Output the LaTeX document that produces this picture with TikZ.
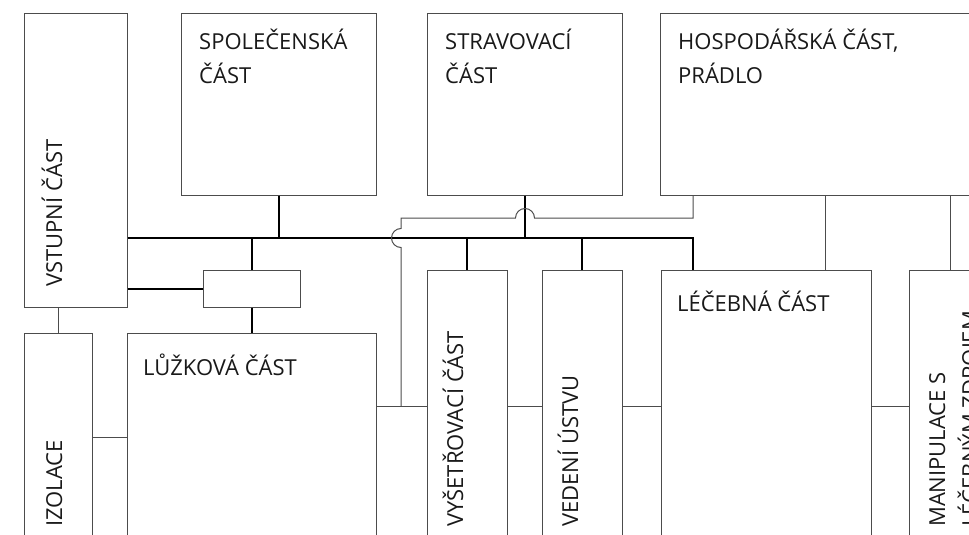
\documentclass[tikz,border=0pt]{standalone}
\usepackage{fontspec}
\newfontfamily\planfont{Open Sans}

\begin{document}
\begin{tikzpicture}[x=1pt,y=-1pt,room/.style={draw=black!70, line width=1pt, inner sep=0pt},txt/.style={font=\planfont\fontsize{22}{33}\selectfont, text=black!90, inner sep=0pt, align=left, anchor=base west},vtxt/.style={txt, rotate=90},main/.style={line width=2pt, black},side/.style={line width=1pt, black!70}]
\useasboundingbox (0,0) rectangle (969,535);
\clip (0,0) rectangle (969,535);
\node[room, minimum width=103pt, minimum height=293pt] (vst) at (75.5,160.5) {};
\node[room, minimum width=195pt, minimum height=181pt] (spol) at (278.5,104.5) {};
\node[room, minimum width=195pt, minimum height=181pt] (strav) at (524.5,104.5) {};
\node[room, minimum width=380pt, minimum height=181pt] (hosp) at (850,104.5) {};
\node[room, minimum width=97pt, minimum height=37pt] (lnk) at (251.5,288.5) {};
\node[room, minimum width=68pt, minimum height=208pt] (izol) at (58,437) {};
\node[room, minimum width=249pt, minimum height=208pt] (luz) at (251.5,437) {};
\node[room, minimum width=80pt, minimum height=272pt] (vys) at (467,406) {};
\node[room, minimum width=80pt, minimum height=272pt] (ved) at (582,406) {};
\node[room, minimum width=210pt, minimum height=272pt] (lec) at (766,406) {};
\node[room, minimum width=82pt, minimum height=272pt] (man) at (950,406) {};
\coordinate (bus) at (0,238); \coordinate (tap) at (693,0); \coordinate (lt) at (825,0);
\coordinate (h1) at (534.5,218); \coordinate (h2) at (401,218); \coordinate (h3) at (401,228.5);
\draw[main] (vst.east |- bus) -- (tap |- bus) -- (tap |- lec.north);
\draw[main] (spol.south) -- (spol.south |- bus);
\draw[main] (strav.south) -- (strav.south |- bus);
\draw[main] (lnk.north |- bus) -- (lnk.north);
\draw[main] (lnk.south) -- (luz.north);
\draw[main] (vst.east |- lnk.west) -- (lnk.west);
\draw[main] (vys.north |- bus) -- (vys.north);
\draw[main] (ved.north |- bus) -- (ved.north);
\draw[side] (izol.north |- vst.south) -- (izol.north);
\draw[side] (izol.east) -- (izol.east -| luz.west);
\draw[side] (luz.east |- vys.west) -- (vys.west);
\draw[side] (vys.east) -- (ved.west);
\draw[side] (ved.east) -- (lec.west);
\draw[side] (lec.east) -- (man.west);
\draw[side] (lt |- hosp.south) -- (lt |- lec.north);
\draw[side] (man.north |- hosp.south) -- (man.north);
\draw[side] (tap |- hosp.south) -- (tap |- h1) -- (h1) arc[start angle=0, end angle=180, radius=9.5pt] -- (h2) -- (h3) arc[start angle=90, end angle=270, radius=9.5pt] -- (h2 |- vys.west);
\node[txt] (tspol) at (199,83) {SPOLEČENSKÁ\\ČÁST};
\node[txt] (tstrav) at (445,83) {STRAVOVACÍ\\ČÁST};
\node[txt] (thosp) at (678,83) {HOSPODÁŘSKÁ ČÁST,\\PRÁDLO};
\node[txt] (tlec) at (677,311) {LÉČEBNÁ ČÁST};
\node[txt] (tluz) at (143,375) {LŮŽKOVÁ ČÁST};
\node[vtxt] (tvst) at (62,287) {VSTUPNÍ ČÁST};
\node[vtxt] (tizol) at (62,527) {IZOLACE};
\node[vtxt] (tvys) at (463,527) {VYŠETŘOVACÍ ČÁST};
\node[vtxt] (tved) at (578,527) {VEDENÍ ÚSTVU};
\node[vtxt] (tman) at (978,527) {MANIPULACE S\\LÉČEBNÝM ZDROJEM};
\end{tikzpicture}
\end{document}
